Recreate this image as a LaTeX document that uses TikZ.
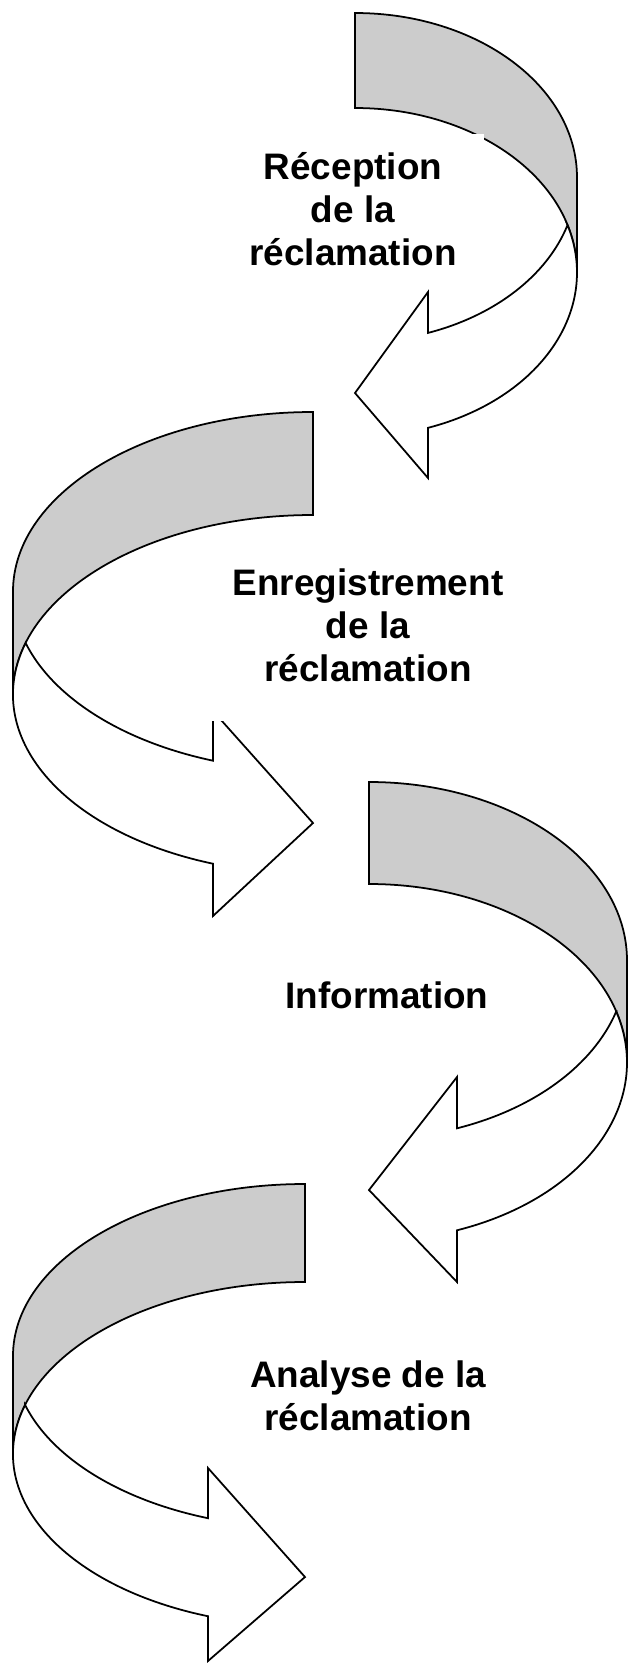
\documentclass[tikz,border=0pt]{standalone}
\usepackage{fontspec}
\setmainfont{Liberation Sans}
\definecolor{bandgray}{RGB}{204,204,204}

\begin{document}
\begin{tikzpicture}[x=0.02cm,y=-0.02cm,
  back band/.style={fill=bandgray,draw=black,line width=1pt},
  front band/.style={fill=white,draw=black,line width=1pt},
  step label/.style={fill=white,align=center,inner sep=1pt,
    font=\fontsize{21}{24.5}\selectfont\bfseries}]

  \useasboundingbox (0,0) rectangle (628,1664);

  % Step 1: Reception (arrow turning back to the left)

  \begin{scope}
    \draw [back band] (355,13)
      arc [start angle=-90, end angle=0, x radius=222, y radius=164.5]
      -- (577,272.5)
      arc [start angle=0, end angle=-90, x radius=222, y radius=164.5] -- cycle;
    \draw [front band] (567.5,225)
      arc [start angle=-16.78, end angle=70.8, x radius=222, y radius=164.5]
      -- (428,478) -- (355,393) -- (428,292) -- (428,332.9)
      arc [start angle=70.8, end angle=16.78, x radius=222, y radius=164.5] -- cycle;
    \node [step label, minimum width=5.24cm, minimum height=3.02cm] (rec) at (353,209)
      {R\'eception\\de la\\r\'eclamation};
  \end{scope}

  % Step 2: Enregistrement (arrow turning to the right)

  \begin{scope}
    \draw [back band] (313,412)
      arc [start angle=-90, end angle=-180, x radius=300, y radius=179.5]
      -- (13,694.5)
      arc [start angle=-180, end angle=-90, x radius=300, y radius=179.5] -- cycle;
    \draw [front band] (25.6,643)
      arc [start angle=-163.33, end angle=-250.53, x radius=300, y radius=179.5]
      -- (213,916) -- (313,823) -- (213,711) -- (213,760.7)
      arc [start angle=109.47, end angle=163.33, x radius=300, y radius=179.5] -- cycle;
    \node [step label, minimum width=6.4cm, minimum height=3.84cm] (enr) at (368,625)
      {Enregistrement\\de la\\r\'eclamation};
  \end{scope}

  % Step 3: Information (arrow turning back to the left)

  \begin{scope}
    \draw [back band] (369,782)
      arc [start angle=-90, end angle=0, x radius=258, y radius=178.5]
      -- (627,1062.5)
      arc [start angle=0, end angle=-90, x radius=258, y radius=178.5] -- cycle;
    \draw [front band] (616.2,1011.5)
      arc [start angle=-16.60, end angle=70.06, x radius=258, y radius=178.5]
      -- (457,1282) -- (369,1190) -- (457,1077) -- (457,1128.3)
      arc [start angle=70.06, end angle=16.60, x radius=258, y radius=178.5] -- cycle;
    \node [step label] (inf) at (387,995) {Information};
  \end{scope}

  % Step 4: Analyse (arrow turning to the right)

  \begin{scope}
    \draw [back band] (305,1184)
      arc [start angle=-90, end angle=-180, x radius=292, y radius=172]
      -- (13,1454)
      arc [start angle=-180, end angle=-90, x radius=292, y radius=172] -- cycle;
    \draw [front band] (25.1,1405)
      arc [start angle=-163.45, end angle=-250.60, x radius=292, y radius=172]
      -- (208,1661) -- (305,1577) -- (208,1468) -- (208,1518.2)
      arc [start angle=109.40, end angle=163.45, x radius=292, y radius=172] -- cycle;
    \node [step label] (ana) at (368,1396) {Analyse de la\\r\'eclamation};
  \end{scope}

\end{tikzpicture}
\end{document}
